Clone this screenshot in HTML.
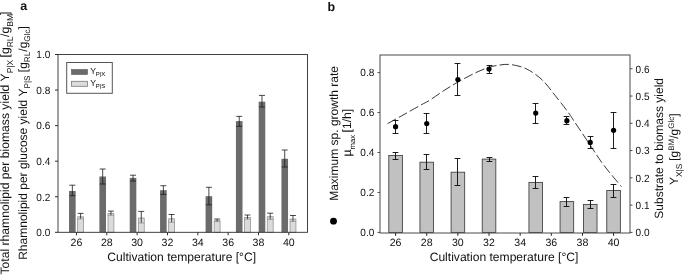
<!DOCTYPE html>
<html><head><meta charset="utf-8"><title>Figure</title>
<style>
html,body{margin:0;padding:0;background:#fff;}
body{width:685px;height:275px;overflow:hidden;}
svg{display:block;will-change:transform;filter:grayscale(1);}
svg text{font-family:"Liberation Sans", sans-serif;fill:#111;text-rendering:geometricPrecision;}
</style></head><body>
<svg width="685" height="275" viewBox="0 0 685 275">
<rect width="685" height="275" fill="#fff"/>
<rect x="69.05" y="191.00" width="6.60" height="41.30" fill="#6b6b6b" stroke="none" stroke-width="1"/>
<line x1="72.35" y1="185.20" x2="72.35" y2="195.70" stroke="#1a1a1a" stroke-width="0.8" />
<line x1="69.35" y1="185.20" x2="75.35" y2="185.20" stroke="#1a1a1a" stroke-width="0.8" />
<line x1="69.35" y1="195.70" x2="75.35" y2="195.70" stroke="#1a1a1a" stroke-width="0.8" />
<rect x="99.39" y="176.50" width="6.60" height="55.80" fill="#6b6b6b" stroke="none" stroke-width="1"/>
<line x1="102.69" y1="169.00" x2="102.69" y2="184.00" stroke="#1a1a1a" stroke-width="0.8" />
<line x1="99.69" y1="169.00" x2="105.69" y2="169.00" stroke="#1a1a1a" stroke-width="0.8" />
<line x1="99.69" y1="184.00" x2="105.69" y2="184.00" stroke="#1a1a1a" stroke-width="0.8" />
<rect x="129.73" y="177.90" width="6.60" height="54.40" fill="#6b6b6b" stroke="none" stroke-width="1"/>
<line x1="133.03" y1="175.20" x2="133.03" y2="181.00" stroke="#1a1a1a" stroke-width="0.8" />
<line x1="130.03" y1="175.20" x2="136.03" y2="175.20" stroke="#1a1a1a" stroke-width="0.8" />
<line x1="130.03" y1="181.00" x2="136.03" y2="181.00" stroke="#1a1a1a" stroke-width="0.8" />
<rect x="160.07" y="190.20" width="6.60" height="42.10" fill="#6b6b6b" stroke="none" stroke-width="1"/>
<line x1="163.37" y1="185.70" x2="163.37" y2="194.40" stroke="#1a1a1a" stroke-width="0.8" />
<line x1="160.37" y1="185.70" x2="166.37" y2="185.70" stroke="#1a1a1a" stroke-width="0.8" />
<line x1="160.37" y1="194.40" x2="166.37" y2="194.40" stroke="#1a1a1a" stroke-width="0.8" />
<rect x="205.58" y="196.20" width="6.60" height="36.10" fill="#6b6b6b" stroke="none" stroke-width="1"/>
<line x1="208.88" y1="187.30" x2="208.88" y2="204.80" stroke="#1a1a1a" stroke-width="0.8" />
<line x1="205.88" y1="187.30" x2="211.88" y2="187.30" stroke="#1a1a1a" stroke-width="0.8" />
<line x1="205.88" y1="204.80" x2="211.88" y2="204.80" stroke="#1a1a1a" stroke-width="0.8" />
<rect x="235.92" y="121.10" width="6.60" height="111.20" fill="#6b6b6b" stroke="none" stroke-width="1"/>
<line x1="239.22" y1="116.40" x2="239.22" y2="126.30" stroke="#1a1a1a" stroke-width="0.8" />
<line x1="236.22" y1="116.40" x2="242.22" y2="116.40" stroke="#1a1a1a" stroke-width="0.8" />
<line x1="236.22" y1="126.30" x2="242.22" y2="126.30" stroke="#1a1a1a" stroke-width="0.8" />
<rect x="258.68" y="101.70" width="6.60" height="130.60" fill="#6b6b6b" stroke="none" stroke-width="1"/>
<line x1="261.97" y1="95.40" x2="261.97" y2="107.00" stroke="#1a1a1a" stroke-width="0.8" />
<line x1="258.97" y1="95.40" x2="264.97" y2="95.40" stroke="#1a1a1a" stroke-width="0.8" />
<line x1="258.97" y1="107.00" x2="264.97" y2="107.00" stroke="#1a1a1a" stroke-width="0.8" />
<rect x="281.43" y="158.80" width="6.60" height="73.50" fill="#6b6b6b" stroke="none" stroke-width="1"/>
<line x1="284.73" y1="150.00" x2="284.73" y2="167.00" stroke="#1a1a1a" stroke-width="0.8" />
<line x1="281.73" y1="150.00" x2="287.73" y2="150.00" stroke="#1a1a1a" stroke-width="0.8" />
<line x1="281.73" y1="167.00" x2="287.73" y2="167.00" stroke="#1a1a1a" stroke-width="0.8" />
<rect x="77.65" y="216.80" width="5.90" height="15.50" fill="#dbdbdb" stroke="#8e8e8e" stroke-width="0.75"/>
<line x1="80.60" y1="213.40" x2="80.60" y2="218.90" stroke="#1a1a1a" stroke-width="0.8" />
<line x1="77.65" y1="213.40" x2="83.55" y2="213.40" stroke="#1a1a1a" stroke-width="0.8" />
<line x1="77.65" y1="218.90" x2="83.55" y2="218.90" stroke="#8c8c8c" stroke-width="0.7" />
<rect x="107.99" y="213.60" width="5.90" height="18.70" fill="#dbdbdb" stroke="#8e8e8e" stroke-width="0.75"/>
<line x1="110.94" y1="211.10" x2="110.94" y2="215.30" stroke="#1a1a1a" stroke-width="0.8" />
<line x1="107.99" y1="211.10" x2="113.89" y2="211.10" stroke="#1a1a1a" stroke-width="0.8" />
<line x1="107.99" y1="215.30" x2="113.89" y2="215.30" stroke="#8c8c8c" stroke-width="0.7" />
<rect x="138.33" y="218.00" width="5.90" height="14.30" fill="#dbdbdb" stroke="#8e8e8e" stroke-width="0.75"/>
<line x1="141.28" y1="211.40" x2="141.28" y2="223.00" stroke="#1a1a1a" stroke-width="0.8" />
<line x1="138.33" y1="211.40" x2="144.23" y2="211.40" stroke="#1a1a1a" stroke-width="0.8" />
<line x1="138.33" y1="223.00" x2="144.23" y2="223.00" stroke="#8c8c8c" stroke-width="0.7" />
<rect x="168.67" y="218.80" width="5.90" height="13.50" fill="#dbdbdb" stroke="#8e8e8e" stroke-width="0.75"/>
<line x1="171.62" y1="214.50" x2="171.62" y2="222.30" stroke="#1a1a1a" stroke-width="0.8" />
<line x1="168.67" y1="214.50" x2="174.57" y2="214.50" stroke="#1a1a1a" stroke-width="0.8" />
<line x1="168.67" y1="222.30" x2="174.57" y2="222.30" stroke="#8c8c8c" stroke-width="0.7" />
<rect x="214.18" y="220.70" width="5.90" height="11.60" fill="#dbdbdb" stroke="#8e8e8e" stroke-width="0.75"/>
<line x1="217.13" y1="219.00" x2="217.13" y2="221.60" stroke="#1a1a1a" stroke-width="0.8" />
<line x1="214.18" y1="219.00" x2="220.08" y2="219.00" stroke="#1a1a1a" stroke-width="0.8" />
<line x1="214.18" y1="221.60" x2="220.08" y2="221.60" stroke="#8c8c8c" stroke-width="0.7" />
<rect x="244.52" y="217.50" width="5.90" height="14.80" fill="#dbdbdb" stroke="#8e8e8e" stroke-width="0.75"/>
<line x1="247.47" y1="215.00" x2="247.47" y2="219.20" stroke="#1a1a1a" stroke-width="0.8" />
<line x1="244.52" y1="215.00" x2="250.42" y2="215.00" stroke="#1a1a1a" stroke-width="0.8" />
<line x1="244.52" y1="219.20" x2="250.42" y2="219.20" stroke="#8c8c8c" stroke-width="0.7" />
<rect x="267.27" y="216.70" width="5.90" height="15.60" fill="#dbdbdb" stroke="#8e8e8e" stroke-width="0.75"/>
<line x1="270.22" y1="213.20" x2="270.22" y2="219.40" stroke="#1a1a1a" stroke-width="0.8" />
<line x1="267.27" y1="213.20" x2="273.18" y2="213.20" stroke="#1a1a1a" stroke-width="0.8" />
<line x1="267.27" y1="219.40" x2="273.18" y2="219.40" stroke="#8c8c8c" stroke-width="0.7" />
<rect x="290.03" y="219.10" width="5.90" height="13.20" fill="#dbdbdb" stroke="#8e8e8e" stroke-width="0.75"/>
<line x1="292.98" y1="215.50" x2="292.98" y2="221.50" stroke="#1a1a1a" stroke-width="0.8" />
<line x1="290.03" y1="215.50" x2="295.93" y2="215.50" stroke="#1a1a1a" stroke-width="0.8" />
<line x1="290.03" y1="221.50" x2="295.93" y2="221.50" stroke="#8c8c8c" stroke-width="0.7" />
<rect x="58.00" y="54.50" width="249.50" height="177.80" fill="none" stroke="#2e2e2e" stroke-width="0.9"/>
<line x1="55.00" y1="232.30" x2="58.00" y2="232.30" stroke="#2e2e2e" stroke-width="1" />
<text x="50.30" y="236.10" font-size="10.5" text-anchor="end" font-weight="normal" textLength="14.0" lengthAdjust="spacingAndGlyphs">0.0</text>
<line x1="55.00" y1="196.74" x2="58.00" y2="196.74" stroke="#2e2e2e" stroke-width="1" />
<text x="50.30" y="200.54" font-size="10.5" text-anchor="end" font-weight="normal" textLength="14.0" lengthAdjust="spacingAndGlyphs">0.2</text>
<line x1="55.00" y1="161.18" x2="58.00" y2="161.18" stroke="#2e2e2e" stroke-width="1" />
<text x="50.30" y="164.98" font-size="10.5" text-anchor="end" font-weight="normal" textLength="14.0" lengthAdjust="spacingAndGlyphs">0.4</text>
<line x1="55.00" y1="125.62" x2="58.00" y2="125.62" stroke="#2e2e2e" stroke-width="1" />
<text x="50.30" y="129.42" font-size="10.5" text-anchor="end" font-weight="normal" textLength="14.0" lengthAdjust="spacingAndGlyphs">0.6</text>
<line x1="55.00" y1="90.06" x2="58.00" y2="90.06" stroke="#2e2e2e" stroke-width="1" />
<text x="50.30" y="93.86" font-size="10.5" text-anchor="end" font-weight="normal" textLength="14.0" lengthAdjust="spacingAndGlyphs">0.8</text>
<line x1="55.00" y1="54.50" x2="58.00" y2="54.50" stroke="#2e2e2e" stroke-width="1" />
<text x="50.30" y="58.30" font-size="10.5" text-anchor="end" font-weight="normal" textLength="14.0" lengthAdjust="spacingAndGlyphs">1.0</text>
<line x1="76.45" y1="232.30" x2="76.45" y2="235.30" stroke="#2e2e2e" stroke-width="1" />
<text x="76.45" y="245.90" font-size="10.6" text-anchor="middle" font-weight="normal" >26</text>
<line x1="106.79" y1="232.30" x2="106.79" y2="235.30" stroke="#2e2e2e" stroke-width="1" />
<text x="106.79" y="245.90" font-size="10.6" text-anchor="middle" font-weight="normal" >28</text>
<line x1="137.13" y1="232.30" x2="137.13" y2="235.30" stroke="#2e2e2e" stroke-width="1" />
<text x="137.13" y="245.90" font-size="10.6" text-anchor="middle" font-weight="normal" >30</text>
<line x1="167.47" y1="232.30" x2="167.47" y2="235.30" stroke="#2e2e2e" stroke-width="1" />
<text x="167.47" y="245.90" font-size="10.6" text-anchor="middle" font-weight="normal" >32</text>
<line x1="197.81" y1="232.30" x2="197.81" y2="235.30" stroke="#2e2e2e" stroke-width="1" />
<text x="197.81" y="245.90" font-size="10.6" text-anchor="middle" font-weight="normal" >34</text>
<line x1="228.15" y1="232.30" x2="228.15" y2="235.30" stroke="#2e2e2e" stroke-width="1" />
<text x="228.15" y="245.90" font-size="10.6" text-anchor="middle" font-weight="normal" >36</text>
<line x1="258.49" y1="232.30" x2="258.49" y2="235.30" stroke="#2e2e2e" stroke-width="1" />
<text x="258.49" y="245.90" font-size="10.6" text-anchor="middle" font-weight="normal" >38</text>
<line x1="288.83" y1="232.30" x2="288.83" y2="235.30" stroke="#2e2e2e" stroke-width="1" />
<text x="288.83" y="245.90" font-size="10.6" text-anchor="middle" font-weight="normal" >40</text>
<text x="181.70" y="261.40" font-size="12.1" text-anchor="middle" font-weight="normal" >Cultivation temperature [°C]</text>
<rect x="66.70" y="62.50" width="45.60" height="30.80" fill="#fff" stroke="#555" stroke-width="1"/>
<rect x="71.50" y="69.50" width="16.00" height="5.00" fill="#6b6b6b" stroke="#555" stroke-width="0.6"/>
<rect x="71.50" y="81.30" width="16.00" height="5.00" fill="#dcdcdc" stroke="#7a7a7a" stroke-width="0.8"/>
<text x="90.2" y="73.9" font-size="8.7">Y<tspan font-size="6" dy="2.2" dx="-0.2" fill="#000" style="text-rendering:optimizeLegibility">P|X</tspan></text>
<text x="90.2" y="85.7" font-size="8.7">Y<tspan font-size="6" dy="2.2" dx="-0.2" fill="#000" style="text-rendering:optimizeLegibility">P|S</tspan></text>
<text x="20.20" y="10.00" font-size="12.5" text-anchor="start" font-weight="bold" >a</text>
<text transform="translate(9.3,274.5) rotate(-90)" font-size="12.17">Total rhamnolipid per biomass yield Y<tspan font-size="8.6" dy="3.8">P|X</tspan><tspan dy="-3.8" dx="-1.2"> [g</tspan><tspan font-size="8.6" dy="3.8">RL</tspan><tspan dy="-3.8" dx="-0.6">/g</tspan><tspan font-size="8.6" dy="3.8">BM</tspan><tspan dy="-3.8" dx="-1.2">]</tspan></text>
<text transform="translate(26.6,259.8) rotate(-90)" font-size="12">Rhamnolipid per glucose yield Y<tspan font-size="8.2" dy="3.7">P|S</tspan><tspan dy="-3.7"> [g</tspan><tspan font-size="8.2" dy="3.7">RL</tspan><tspan dy="-3.7">/g</tspan><tspan font-size="8.2" dy="3.7">Glc</tspan><tspan dy="-3.7">]</tspan></text>
<rect x="388.80" y="155.50" width="13.60" height="76.90" fill="#c1c1c1" stroke="#3c3c3c" stroke-width="0.85"/>
<line x1="395.50" y1="152.50" x2="395.50" y2="159.50" stroke="#111" stroke-width="0.95" />
<line x1="392.60" y1="152.50" x2="398.40" y2="152.50" stroke="#111" stroke-width="0.95" />
<line x1="392.60" y1="159.50" x2="398.40" y2="159.50" stroke="#111" stroke-width="0.95" />
<rect x="419.94" y="162.20" width="13.60" height="70.20" fill="#c1c1c1" stroke="#3c3c3c" stroke-width="0.85"/>
<line x1="426.50" y1="154.50" x2="426.50" y2="169.50" stroke="#111" stroke-width="0.95" />
<line x1="423.60" y1="154.50" x2="429.40" y2="154.50" stroke="#111" stroke-width="0.95" />
<line x1="423.60" y1="169.50" x2="429.40" y2="169.50" stroke="#111" stroke-width="0.95" />
<rect x="451.08" y="172.20" width="13.60" height="60.20" fill="#c1c1c1" stroke="#3c3c3c" stroke-width="0.85"/>
<line x1="457.50" y1="158.50" x2="457.50" y2="185.50" stroke="#111" stroke-width="0.95" />
<line x1="454.60" y1="158.50" x2="460.40" y2="158.50" stroke="#111" stroke-width="0.95" />
<line x1="454.60" y1="185.50" x2="460.40" y2="185.50" stroke="#111" stroke-width="0.95" />
<rect x="482.22" y="159.10" width="13.60" height="73.30" fill="#c1c1c1" stroke="#3c3c3c" stroke-width="0.85"/>
<line x1="489.50" y1="157.50" x2="489.50" y2="161.50" stroke="#111" stroke-width="0.95" />
<line x1="486.60" y1="157.50" x2="492.40" y2="157.50" stroke="#111" stroke-width="0.95" />
<line x1="486.60" y1="161.50" x2="492.40" y2="161.50" stroke="#111" stroke-width="0.95" />
<rect x="528.93" y="182.40" width="13.60" height="50.00" fill="#c1c1c1" stroke="#3c3c3c" stroke-width="0.85"/>
<line x1="535.50" y1="176.50" x2="535.50" y2="188.50" stroke="#111" stroke-width="0.95" />
<line x1="532.60" y1="176.50" x2="538.40" y2="176.50" stroke="#111" stroke-width="0.95" />
<line x1="532.60" y1="188.50" x2="538.40" y2="188.50" stroke="#111" stroke-width="0.95" />
<rect x="560.07" y="201.60" width="13.60" height="30.80" fill="#c1c1c1" stroke="#3c3c3c" stroke-width="0.85"/>
<line x1="566.50" y1="197.50" x2="566.50" y2="206.50" stroke="#111" stroke-width="0.95" />
<line x1="563.60" y1="197.50" x2="569.40" y2="197.50" stroke="#111" stroke-width="0.95" />
<line x1="563.60" y1="206.50" x2="569.40" y2="206.50" stroke="#111" stroke-width="0.95" />
<rect x="583.43" y="204.40" width="13.60" height="28.00" fill="#c1c1c1" stroke="#3c3c3c" stroke-width="0.85"/>
<line x1="590.50" y1="200.50" x2="590.50" y2="208.50" stroke="#111" stroke-width="0.95" />
<line x1="587.60" y1="200.50" x2="593.40" y2="200.50" stroke="#111" stroke-width="0.95" />
<line x1="587.60" y1="208.50" x2="593.40" y2="208.50" stroke="#111" stroke-width="0.95" />
<rect x="606.78" y="190.50" width="13.60" height="41.90" fill="#c1c1c1" stroke="#3c3c3c" stroke-width="0.85"/>
<line x1="613.50" y1="184.50" x2="613.50" y2="197.50" stroke="#111" stroke-width="0.95" />
<line x1="610.60" y1="184.50" x2="616.40" y2="184.50" stroke="#111" stroke-width="0.95" />
<line x1="610.60" y1="197.50" x2="616.40" y2="197.50" stroke="#111" stroke-width="0.95" />
<path d="M387.6,123.6 C390.3,122.1 398.6,117.5 404.0,114.5 C409.4,111.5 415.7,107.9 420.0,105.5 C424.3,103.1 426.0,102.5 430.0,100.0 C434.0,97.5 439.3,93.5 444.0,90.5 C448.7,87.5 453.0,84.8 458.0,82.0 C463.0,79.2 468.8,76.0 474.0,73.5 C479.2,71.0 484.7,68.7 489.0,67.3 C493.3,65.9 496.8,65.5 500.0,65.0 C503.2,64.5 505.1,64.2 508.3,64.4 C511.5,64.6 515.5,65.2 519.0,66.2 C522.5,67.2 525.4,68.1 529.3,70.4 C533.2,72.7 538.0,75.9 542.4,80.1 C546.8,84.3 551.0,90.3 555.4,95.8 C559.8,101.2 565.4,108.6 568.5,112.8 C571.6,117.0 570.2,115.4 573.8,120.7 C577.4,126.0 584.9,137.3 589.9,144.7 C594.9,152.1 598.5,158.2 603.8,165.2 C609.0,172.2 618.5,183.0 621.4,186.6" fill="none" stroke="#222" stroke-width="0.9" stroke-dasharray="9.5 3.2"/>
<line x1="395.50" y1="120.50" x2="395.50" y2="133.50" stroke="#111" stroke-width="0.95" />
<line x1="392.60" y1="120.50" x2="398.40" y2="120.50" stroke="#111" stroke-width="0.95" />
<line x1="392.60" y1="133.50" x2="398.40" y2="133.50" stroke="#111" stroke-width="0.95" />
<circle cx="395.60" cy="126.70" r="2.6" fill="#000"/>
<line x1="426.50" y1="113.50" x2="426.50" y2="133.50" stroke="#111" stroke-width="0.95" />
<line x1="423.60" y1="113.50" x2="429.40" y2="113.50" stroke="#111" stroke-width="0.95" />
<line x1="423.60" y1="133.50" x2="429.40" y2="133.50" stroke="#111" stroke-width="0.95" />
<circle cx="426.74" cy="123.60" r="2.6" fill="#000"/>
<line x1="457.50" y1="63.50" x2="457.50" y2="95.50" stroke="#111" stroke-width="0.95" />
<line x1="454.60" y1="63.50" x2="460.40" y2="63.50" stroke="#111" stroke-width="0.95" />
<line x1="454.60" y1="95.50" x2="460.40" y2="95.50" stroke="#111" stroke-width="0.95" />
<circle cx="457.88" cy="79.60" r="2.6" fill="#000"/>
<line x1="489.50" y1="65.50" x2="489.50" y2="73.50" stroke="#111" stroke-width="0.95" />
<line x1="486.60" y1="65.50" x2="492.40" y2="65.50" stroke="#111" stroke-width="0.95" />
<line x1="486.60" y1="73.50" x2="492.40" y2="73.50" stroke="#111" stroke-width="0.95" />
<circle cx="489.02" cy="69.10" r="2.6" fill="#000"/>
<line x1="535.50" y1="103.50" x2="535.50" y2="123.50" stroke="#111" stroke-width="0.95" />
<line x1="532.60" y1="103.50" x2="538.40" y2="103.50" stroke="#111" stroke-width="0.95" />
<line x1="532.60" y1="123.50" x2="538.40" y2="123.50" stroke="#111" stroke-width="0.95" />
<circle cx="535.73" cy="113.10" r="2.6" fill="#000"/>
<line x1="566.50" y1="116.50" x2="566.50" y2="124.50" stroke="#111" stroke-width="0.95" />
<line x1="563.60" y1="116.50" x2="569.40" y2="116.50" stroke="#111" stroke-width="0.95" />
<line x1="563.60" y1="124.50" x2="569.40" y2="124.50" stroke="#111" stroke-width="0.95" />
<circle cx="566.87" cy="120.70" r="2.6" fill="#000"/>
<line x1="590.50" y1="136.50" x2="590.50" y2="148.50" stroke="#111" stroke-width="0.95" />
<line x1="587.60" y1="136.50" x2="593.40" y2="136.50" stroke="#111" stroke-width="0.95" />
<line x1="587.60" y1="148.50" x2="593.40" y2="148.50" stroke="#111" stroke-width="0.95" />
<circle cx="590.23" cy="142.40" r="2.6" fill="#000"/>
<line x1="613.50" y1="112.50" x2="613.50" y2="148.50" stroke="#111" stroke-width="0.95" />
<line x1="610.60" y1="112.50" x2="616.40" y2="112.50" stroke="#111" stroke-width="0.95" />
<line x1="610.60" y1="148.50" x2="616.40" y2="148.50" stroke="#111" stroke-width="0.95" />
<circle cx="613.58" cy="130.30" r="2.6" fill="#000"/>
<rect x="380.00" y="55.00" width="250.00" height="178.00" fill="none" stroke="#4a4a4a" stroke-width="1"/>
<line x1="377.50" y1="232.40" x2="380.00" y2="232.40" stroke="#4a4a4a" stroke-width="1" />
<text x="374.30" y="236.20" font-size="10.5" text-anchor="end" font-weight="normal" textLength="14.0" lengthAdjust="spacingAndGlyphs">0.0</text>
<line x1="377.50" y1="192.45" x2="380.00" y2="192.45" stroke="#4a4a4a" stroke-width="1" />
<text x="374.30" y="196.25" font-size="10.5" text-anchor="end" font-weight="normal" textLength="14.0" lengthAdjust="spacingAndGlyphs">0.2</text>
<line x1="377.50" y1="152.50" x2="380.00" y2="152.50" stroke="#4a4a4a" stroke-width="1" />
<text x="374.30" y="156.30" font-size="10.5" text-anchor="end" font-weight="normal" textLength="14.0" lengthAdjust="spacingAndGlyphs">0.4</text>
<line x1="377.50" y1="112.55" x2="380.00" y2="112.55" stroke="#4a4a4a" stroke-width="1" />
<text x="374.30" y="116.35" font-size="10.5" text-anchor="end" font-weight="normal" textLength="14.0" lengthAdjust="spacingAndGlyphs">0.6</text>
<line x1="377.50" y1="72.60" x2="380.00" y2="72.60" stroke="#4a4a4a" stroke-width="1" />
<text x="374.30" y="76.40" font-size="10.5" text-anchor="end" font-weight="normal" textLength="14.0" lengthAdjust="spacingAndGlyphs">0.8</text>
<line x1="630.00" y1="232.40" x2="632.50" y2="232.40" stroke="#4a4a4a" stroke-width="1" />
<text x="635.60" y="236.20" font-size="10.5" text-anchor="start" font-weight="normal" textLength="14.0" lengthAdjust="spacingAndGlyphs">0.0</text>
<line x1="630.00" y1="205.13" x2="632.50" y2="205.13" stroke="#4a4a4a" stroke-width="1" />
<text x="635.60" y="208.93" font-size="10.5" text-anchor="start" font-weight="normal" textLength="14.0" lengthAdjust="spacingAndGlyphs">0.1</text>
<line x1="630.00" y1="177.86" x2="632.50" y2="177.86" stroke="#4a4a4a" stroke-width="1" />
<text x="635.60" y="181.66" font-size="10.5" text-anchor="start" font-weight="normal" textLength="14.0" lengthAdjust="spacingAndGlyphs">0.2</text>
<line x1="630.00" y1="150.59" x2="632.50" y2="150.59" stroke="#4a4a4a" stroke-width="1" />
<text x="635.60" y="154.39" font-size="10.5" text-anchor="start" font-weight="normal" textLength="14.0" lengthAdjust="spacingAndGlyphs">0.3</text>
<line x1="630.00" y1="123.32" x2="632.50" y2="123.32" stroke="#4a4a4a" stroke-width="1" />
<text x="635.60" y="127.12" font-size="10.5" text-anchor="start" font-weight="normal" textLength="14.0" lengthAdjust="spacingAndGlyphs">0.4</text>
<line x1="630.00" y1="96.05" x2="632.50" y2="96.05" stroke="#4a4a4a" stroke-width="1" />
<text x="635.60" y="99.85" font-size="10.5" text-anchor="start" font-weight="normal" textLength="14.0" lengthAdjust="spacingAndGlyphs">0.5</text>
<line x1="630.00" y1="68.78" x2="632.50" y2="68.78" stroke="#4a4a4a" stroke-width="1" />
<text x="635.60" y="72.58" font-size="10.5" text-anchor="start" font-weight="normal" textLength="14.0" lengthAdjust="spacingAndGlyphs">0.6</text>
<line x1="395.60" y1="233.00" x2="395.60" y2="235.80" stroke="#222" stroke-width="1" />
<text x="395.60" y="245.90" font-size="10.6" text-anchor="middle" font-weight="normal" >26</text>
<line x1="426.74" y1="233.00" x2="426.74" y2="235.80" stroke="#222" stroke-width="1" />
<text x="426.74" y="245.90" font-size="10.6" text-anchor="middle" font-weight="normal" >28</text>
<line x1="457.88" y1="233.00" x2="457.88" y2="235.80" stroke="#222" stroke-width="1" />
<text x="457.88" y="245.90" font-size="10.6" text-anchor="middle" font-weight="normal" >30</text>
<line x1="489.02" y1="233.00" x2="489.02" y2="235.80" stroke="#222" stroke-width="1" />
<text x="489.02" y="245.90" font-size="10.6" text-anchor="middle" font-weight="normal" >32</text>
<line x1="520.16" y1="233.00" x2="520.16" y2="235.80" stroke="#222" stroke-width="1" />
<text x="520.16" y="245.90" font-size="10.6" text-anchor="middle" font-weight="normal" >34</text>
<line x1="551.30" y1="233.00" x2="551.30" y2="235.80" stroke="#222" stroke-width="1" />
<text x="551.30" y="245.90" font-size="10.6" text-anchor="middle" font-weight="normal" >36</text>
<line x1="582.44" y1="233.00" x2="582.44" y2="235.80" stroke="#222" stroke-width="1" />
<text x="582.44" y="245.90" font-size="10.6" text-anchor="middle" font-weight="normal" >38</text>
<line x1="613.58" y1="233.00" x2="613.58" y2="235.80" stroke="#222" stroke-width="1" />
<text x="613.58" y="245.90" font-size="10.6" text-anchor="middle" font-weight="normal" >40</text>
<text x="504.00" y="261.40" font-size="12.1" text-anchor="middle" font-weight="normal" >Cultivation temperature [°C]</text>
<text x="327.60" y="10.50" font-size="12.5" text-anchor="start" font-weight="bold" >b</text>
<circle cx="333.5" cy="221.2" r="3.4" fill="#000"/>
<text transform="translate(338.2,200.8) rotate(-90)" font-size="12">Maximum sp. growth rate</text>
<text transform="translate(350.6,156.4) rotate(-90)" font-size="12.15">µ<tspan font-size="7.7" dy="3.9">max</tspan><tspan dy="-3.9" dx="-0.9"> [1/h]</tspan></text>
<text transform="translate(663.0,218.7) rotate(-90)" font-size="12">Substrate to biomass yield</text>
<text transform="translate(677.8,185.0) rotate(-90)" font-size="12">Y<tspan font-size="8.4" dy="4.4">X|S</tspan><tspan dy="-4.4" dx="-0.5"> [g</tspan><tspan font-size="8" dy="-4">BM</tspan><tspan dy="4">/g</tspan><tspan font-size="8" dy="-4">Glc</tspan><tspan dy="4">]</tspan></text>
</svg>
</body></html>
